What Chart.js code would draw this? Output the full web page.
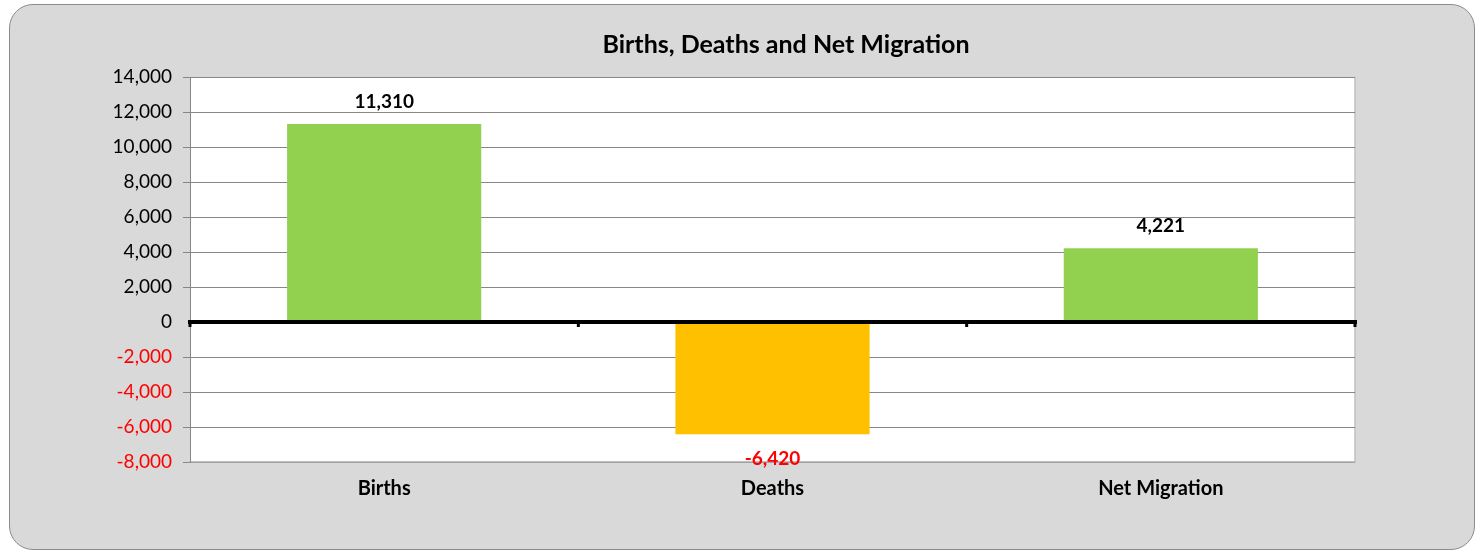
<!DOCTYPE html>
<html>
<head>
<meta charset="utf-8">
<script src="https://cdn.jsdelivr.net/npm/chart.js@4"></script>
<style>
  html, body { margin: 0; padding: 0; background: #ffffff; }
  #frame {
    position: absolute; left: 9px; top: 4px; width: 1466px; height: 546px;
    box-sizing: border-box; border: 1.5px solid #8c8c8c; border-radius: 24px;
    background: #d9d9d9;
  }
  #wrap { position: absolute; left: 0; top: 0; width: 1481px; height: 554px; }
</style>
</head>
<body>
<div id="frame"></div>
<div id="wrap"><canvas id="barChart"></canvas></div>
<script>
const chartTitle = 'Births, Deaths and Net Migration';
const categories = ['Births', 'Deaths', 'Net Migration'];
const values = [11310, -6420, 4221];
const barColors = ['#92d050', '#ffc000', '#92d050'];
const yMin = -8000;
const yMax = 14000;
const yStep = 2000;

const fmt = v => v.toLocaleString('en-US');

// white plot area + light border on the right, plus the title
const plotBg = {
  id: 'plotBg',
  beforeDraw(chart) {
    const a = chart.chartArea, ctx = chart.ctx;
    ctx.save();
    ctx.fillStyle = '#ffffff';
    ctx.fillRect(a.left, a.top, a.right - a.left, a.bottom - a.top);
    ctx.strokeStyle = '#bfbfbf';
    ctx.lineWidth = 1.5;
    ctx.beginPath();
    ctx.moveTo(a.right, a.top);
    ctx.lineTo(a.right, a.bottom);
    ctx.stroke();
    // title sits centred over the whole frame, not only the plot
    ctx.fillStyle = '#000000';
    ctx.font = 'bold 25px Lato';
    ctx.textAlign = 'center';
    ctx.textBaseline = 'middle';
    ctx.fillText(chartTitle, 786, 45);
    ctx.restore();
  }
};

// thick black zero line with small marks at category edges
const zeroLine = {
  id: 'zeroLine',
  afterDatasetsDraw(chart) {
    const a = chart.chartArea, ctx = chart.ctx;
    const y0 = chart.scales.y.getPixelForValue(0);
    ctx.save();
    ctx.fillStyle = '#000000';
    ctx.fillRect(a.left - 2, y0 - 2, a.right - a.left + 4, 4);
    const step = (a.right - a.left) / categories.length;
    for (let i = 0; i <= categories.length; i++) {
      const x = a.left + step * i;
      ctx.fillRect(x - 1.5, y0, 3, 5);
    }
    ctx.restore();
  }
};

// value labels over / under the bars
const valueLabels = {
  id: 'valueLabels',
  afterDatasetsDraw(chart) {
    const ctx = chart.ctx;
    const meta = chart.getDatasetMeta(0);
    ctx.save();
    ctx.font = 'bold 19px Lato';
    ctx.textAlign = 'center';
    ctx.textBaseline = 'middle';
    meta.data.forEach((bar, i) => {
      const v = values[i];
      if (v >= 0) {
        ctx.fillStyle = '#000000';
        ctx.fillText(fmt(v), bar.x, bar.y - 22);
      } else {
        ctx.fillStyle = '#ff0000';
        ctx.fillText(fmt(v), bar.x, bar.y + 25);
      }
    });
    ctx.restore();
  }
};

const ctx = document.getElementById('barChart');

new Chart(ctx, {
  type: 'bar',
  data: {
    labels: categories,
    datasets: [{
      label: 'Quantidade',
      data: values,
      backgroundColor: barColors,
      borderWidth: 0,
      barPercentage: 0.5,
      categoryPercentage: 1
    }]
  },
  options: {
    responsive: true,
    maintainAspectRatio: false,
    animation: false,
    layout: { padding: { left: 0, right: 126, top: 77, bottom: 0 } },
    plugins: {
      legend: { display: false },
      tooltip: { enabled: false },
      title: { display: false }
    },
    scales: {
      x: {
        grid: { display: false, drawTicks: false },
        border: { display: true, color: '#bfbfbf', width: 1.5 },
        ticks: {
          color: '#000000',
          padding: 15,
          font: { family: 'Lato', size: 20, weight: 'bold' }
        },
        afterFit(scale) { scale.height = 92; }
      },
      y: {
        min: yMin,
        max: yMax,
        grid: {
          color: c => (c.tick && c.tick.value === 0) ? 'rgba(0,0,0,0)' : '#878787',
          lineWidth: 1,
          tickLength: 7
        },
        border: { display: true, color: '#878787', width: 1 },
        ticks: {
          stepSize: yStep,
          padding: 11,
          color: c => c.tick.value < 0 ? '#ff0000' : '#000000',
          font: { family: 'Lato', size: 19 },
          callback: v => fmt(v)
        },
        afterFit(scale) { scale.width = 190; }
      }
    }
  },
  plugins: [plotBg, zeroLine, valueLabels]
});
</script>
</body>
</html>
